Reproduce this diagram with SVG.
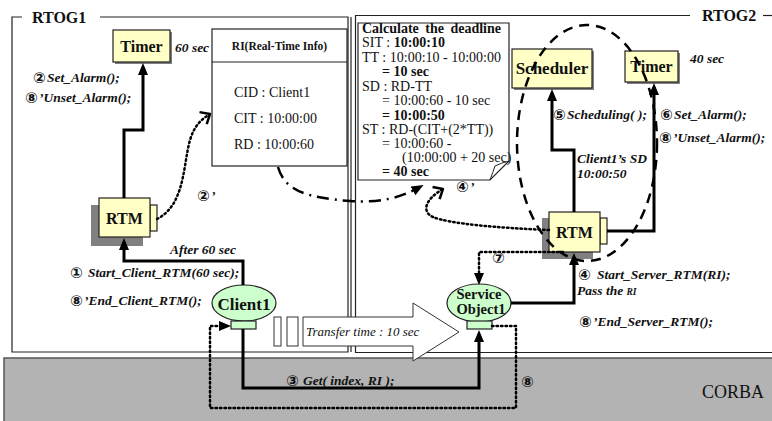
<svg xmlns="http://www.w3.org/2000/svg" width="772" height="421" viewBox="0 0 772 421">
<style>
.f{fill:none;stroke:#222;stroke-width:1.2}
.t{font-family:"Liberation Serif",serif;fill:#111}
.b{font-family:"Liberation Serif",serif;font-weight:bold;fill:#111}
.bi{font-family:"Liberation Serif",serif;font-weight:bold;font-style:italic;font-size:13.5px;fill:#111}
.n{font-family:"DejaVu Sans",sans-serif;font-weight:bold;font-size:15px;fill:#111}
.box{fill:#ffffc6;stroke:#222;stroke-width:1.2}
.sh{fill:#808080}
.grn{fill:#ccffcc;stroke:#222;stroke-width:1.2}
.sol{fill:none;stroke:#000;stroke-width:3;marker-end:url(#ah)}
.dot{fill:none;stroke:#000;stroke-width:2.5;stroke-dasharray:1.5 3;stroke-linecap:round}
</style>
<defs>
<marker id="ah" viewBox="0 0 12 10" refX="8" refY="5" markerWidth="12" markerHeight="10" markerUnits="userSpaceOnUse" orient="auto"><path d="M0,0 L12,5 L0,10 Z" fill="#000"/></marker>
<marker id="ch" viewBox="0 0 10 16" refX="9" refY="8" markerWidth="10" markerHeight="16" markerUnits="userSpaceOnUse" orient="auto"><path d="M1,1 L9,8 L1,15" fill="none" stroke="#000" stroke-width="2.5"/></marker>
</defs>
<rect width="772" height="421" fill="#fff"/>
<g id="frames">
<path class="f" d="M22,17 H12 V352 H348 V17 H100"/>
<line class="f" x1="351" y1="17" x2="351" y2="352"/>
<path class="f" d="M690,15.5 H355.5 V352.5 H772"/>
<line class="f" x1="763" y1="15.5" x2="772" y2="15.5"/>
<text class="b" x="32" y="23" font-size="16">RTOG1</text>
<text class="b" x="702" y="21" font-size="16">RTOG2</text>
</g>
<g id="corba">
<rect x="4" y="358" width="770" height="66" fill="#b3b3b3" stroke="#555" stroke-width="1.5"/>
<text class="t" x="702" y="398" font-size="18" fill="#222">CORBA</text>
</g>
<g id="transfer">
<rect x="274" y="317" width="7" height="29" fill="#fff" stroke="#333"/>
<rect x="287" y="317" width="11" height="29" fill="#fff" stroke="#333"/>
<path d="M303,317 H413 V303 L459,332 L413,361 V346 H303 Z" fill="#fff" stroke="#333"/>
<text class="t" x="306" y="336" font-size="13" font-style="italic">Transfer time : 10 sec</text>
</g>
<g id="ri">
<rect x="212" y="29" width="135" height="137" fill="#fff" stroke="#222" stroke-width="1.2"/>
<line x1="212" y1="62" x2="347" y2="62" stroke="#222" stroke-width="1.2"/>
<text class="b" x="279.5" y="50" font-size="11.5" text-anchor="middle">RI(Real-Time Info)</text>
<text class="t" x="234" y="97" font-size="14">CID : Client1</text>
<text class="t" x="234" y="123" font-size="14">CIT : 10:00:00</text>
<text class="t" x="234" y="149" font-size="14">RD : 10:00:60</text>
</g>
<g id="calc">
<path d="M358,23 H509 V161 L490,180 H358 Z" fill="#fff" stroke="#222" stroke-width="1.2"/>
<path d="M490,180 Q493,172 495,166 Q501,163 509,161" fill="none" stroke="#222" stroke-width="1"/>
<text class="b" x="362" y="33" font-size="14" word-spacing="3">Calculate the deadline</text>
<text class="t" x="362" y="47" font-size="14">SIT : <tspan font-weight="bold">10:00:10</tspan></text>
<text class="t" x="362" y="62" font-size="14">TT : 10:00:10 - 10:00:00</text>
<text class="b" x="382" y="76" font-size="14">= 10 sec</text>
<text class="t" x="362" y="91" font-size="14">SD : RD-TT</text>
<text class="t" x="382" y="105" font-size="14">= 10:00:60 - 10 sec</text>
<text class="b" x="382" y="120" font-size="14">= 10:00:50</text>
<text class="t" x="362" y="134" font-size="14">ST : RD-(CIT+(2*TT))</text>
<text class="t" x="382" y="148" font-size="14">= 10:00:60 -</text>
<text class="t" x="402" y="162" font-size="14">(10:00:00 + 20 sec)</text>
<text class="b" x="382" y="176" font-size="14">= 40 sec</text>
</g>
<g id="timer1">
<rect class="sh" x="115" y="32" width="57" height="32"/>
<rect class="box" x="113" y="30" width="57" height="32"/>
<text class="b" x="141.5" y="52" font-size="16" text-anchor="middle">Timer</text>
</g>
<g id="rtm1">
<rect class="sh" x="91" y="205" width="52" height="41"/>
<rect class="box" x="150" y="205" width="7" height="26"/>
<rect class="box" x="99" y="198" width="51" height="39"/>
<text class="b" x="124.5" y="224" font-size="16" text-anchor="middle">RTM</text>
</g>
<g id="client1">
<ellipse class="grn" cx="244" cy="303" rx="32" ry="18"/>
<rect class="grn" x="231" y="321" width="25" height="8"/>
<text class="b" x="244" y="310" font-size="17" text-anchor="middle">Client1</text>
</g>
<g id="service1">
<ellipse class="grn" cx="479" cy="303" rx="32" ry="19"/>
<rect class="grn" x="467" y="321" width="25" height="8"/>
<text class="b" x="479" y="299" font-size="14.5" text-anchor="middle">Service</text>
<text class="b" x="481" y="314" font-size="14.5" text-anchor="middle">Object1</text>
</g>
<g id="scheduler">
<rect class="sh" x="514" y="51" width="80" height="39"/>
<rect class="box" x="512" y="49" width="80" height="39"/>
<text class="b" x="552" y="74" font-size="17" text-anchor="middle">Scheduler</text>
</g>
<g id="timer2">
<rect class="sh" x="627" y="53" width="53" height="31"/>
<rect class="box" x="625" y="51" width="53" height="31"/>
<text class="b" x="651.5" y="72" font-size="16" text-anchor="middle">Timer</text>
</g>
<g id="rtm2">
<rect class="sh" x="542" y="218" width="51" height="41"/>
<rect class="box" x="600" y="218" width="7" height="26"/>
<rect class="box" x="549" y="212" width="51" height="40"/>
<text class="b" x="574.5" y="238" font-size="16" text-anchor="middle">RTM</text>
</g>
<g id="connectors">
<path class="sol" d="M124,198 V130 H143 V67"/>
<path class="sol" d="M243,285 V261 H124 V242"/>
<path class="sol" d="M574,212 V150 H552 V93"/>
<path class="sol" d="M607,231 H654 V87"/>
<path class="sol" d="M511,303 H574 V257"/>
<path class="sol" d="M243,329 V388 H479 V334"/>
<path class="dot" d="M157,219 C185,205 183,165 190,140 C194,127 200,120 210,114" marker-end="url(#ch)"/>
<path class="dot" d="M549,230 C500,228 450,224 433,217 C422,212 424,200 443,189" marker-end="url(#ch)"/>
<path class="dot" d="M563,252 H479 V281" marker-end="url(#ah)"/>
<path class="dot" d="M492,326 H516 V408 H210 V326 H227" marker-end="url(#ah)"/>
<path d="M278,167 C285,192 310,198 350,201 C380,203 400,198 420,187" fill="none" stroke="#000" stroke-width="2.5" stroke-dasharray="12 6 2 6" marker-end="url(#ah)"/>
<ellipse cx="587" cy="143" rx="70" ry="118" fill="none" stroke="#000" stroke-width="2.5" stroke-dasharray="10 7"/>
</g>
<g id="labels">
<text class="bi" x="175" y="52">60 sec</text>
<text class="n" x="33" y="83">②</text><text class="bi" x="47" y="82">Set_Alarm();</text>
<text class="n" x="25" y="103">⑧</text><text class="bi" x="39" y="102">’Unset_Alarm();</text>
<text class="bi" x="170" y="254">After 60 sec</text>
<text class="n" x="70" y="278">①</text><text class="bi" x="88" y="277">Start_Client_RTM(60 sec);</text>
<text class="n" x="70" y="306">⑧</text><text class="bi" x="84" y="305">’End_Client_RTM();</text>
<text class="n" x="197" y="201">②</text><text class="bi" x="211" y="200">’</text>
<text class="n" x="553" y="120">⑤</text><text class="bi" x="567" y="119">Scheduling( );</text>
<text class="n" x="660" y="120">⑥</text><text class="bi" x="674" y="119">Set_Alarm();</text>
<text class="n" x="659" y="143">⑧</text><text class="bi" x="673" y="142">’Unset_Alarm();</text>
<text class="bi" x="690" y="63">40 sec</text>
<text class="bi" x="577" y="163">Client1’s SD</text>
<text class="bi" x="577" y="178">10:00:50</text>
<text class="n" x="578" y="280">④</text><text class="bi" x="597" y="279">Start_Server_RTM(RI);</text>
<text class="bi" x="577" y="295">Pass the <tspan font-size="9.5">RI</tspan></text>
<text class="n" x="579" y="327">⑧</text><text class="bi" x="593" y="326">’End_Server_RTM();</text>
<text class="n" x="456" y="192">④</text><text class="bi" x="470" y="191">’</text>
<text class="n" x="492" y="263">⑦</text>
<text class="n" x="521" y="387">⑧</text>
<text class="n" x="286" y="386">③</text><text class="bi" x="303" y="385">Get( index, RI );</text>
</g>
</svg>
